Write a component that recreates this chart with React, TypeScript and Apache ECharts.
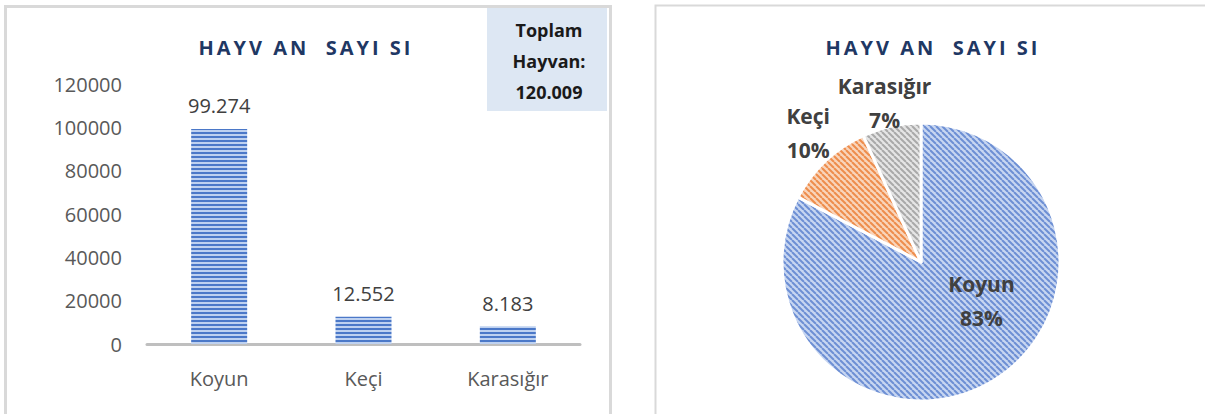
import React, { useEffect, useRef } from "react";
import * as echarts from "echarts";

// ---- data ----
const categories: string[] = ["Koyun", "Keçi", "Karasığır"];
const counts: number[] = [99274, 12552, 8183];
const yMin = 0;
const yMax = 120000;
const yInterval = 20000;
const chartTitle = "HAYV AN  SAYI SI";
const totalWords: string[] = ["Toplam", "Hayvan:"];

// ---- styles ----
const FONT = "'Open Sans', 'Noto Sans', sans-serif";
const TITLE_COLOR = "#1f3864";
const pieColors = [
  { bg: "#c7d6f1", line: "#6d8fd4" },
  { bg: "#f9d5bb", line: "#ee8d4c" },
  { bg: "#e5e5e5", line: "#a9a9a9" },
];
const pieLabelOffsets: [number, number][] = [
  [23, -23],
  [-63, -76],
  [-21, -88],
];

function fmt(v: number): string {
  return String(v).replace(/\B(?=(\d{3})+(?!\d))/g, ".");
}

function makeCanvas(w: number, h: number, draw: (ctx: CanvasRenderingContext2D) => void) {
  const c = document.createElement("canvas");
  c.width = w;
  c.height = h;
  const ctx = c.getContext("2d")!;
  draw(ctx);
  return c;
}

function stripePattern() {
  return makeCanvas(4, 4, (ctx) => {
    ctx.fillStyle = "#bed1f0";
    ctx.fillRect(0, 0, 4, 4);
    ctx.fillStyle = "#4b78c8";
    ctx.fillRect(0, 0, 4, 2);
  });
}

function hatchPattern(bg: string, line: string) {
  const s = 6;
  return makeCanvas(s, s, (ctx) => {
    ctx.fillStyle = bg;
    ctx.fillRect(0, 0, s, s);
    ctx.strokeStyle = line;
    ctx.lineWidth = 2;
    for (let k = -1; k <= 1; k++) {
      ctx.beginPath();
      ctx.moveTo(k * s, 0);
      ctx.lineTo(k * s + s, s);
      ctx.stroke();
    }
  });
}

export default function App() {
  const ref = useRef<HTMLDivElement>(null);

  useEffect(() => {
    if (!ref.current) return;
    const chart = echarts.init(ref.current, undefined, { renderer: "svg" });
    const total = counts.reduce((a, b) => a + b, 0);
    const titleStyle = {
      fontFamily: FONT,
      fontSize: 20,
      fontWeight: "bold",
      fill: TITLE_COLOR,
      align: "center",
      verticalAlign: "middle",
    };
    const boxText = {
      fontFamily: FONT,
      fontSize: 18,
      fontWeight: "bold",
      fill: "#1a1a1a",
      align: "center",
      verticalAlign: "middle",
    };

    chart.setOption({
      animation: false,
      backgroundColor: "#ffffff",
      graphic: [
        { type: "rect", shape: { x: 5.5, y: 6.5, width: 605, height: 430 }, style: { fill: "none", stroke: "#d9d9d9", lineWidth: 3 } },
        { type: "rect", shape: { x: 655.5, y: 5.5, width: 560, height: 430 }, style: { fill: "none", stroke: "#d9d9d9", lineWidth: 2 } },
        { type: "rect", shape: { x: 487, y: 8, width: 120, height: 103 }, style: { fill: "#dde7f3" } },
        { type: "text", x: 549, y: 30, style: { ...boxText, text: totalWords[0] } },
        { type: "text", x: 549, y: 61, style: { ...boxText, text: totalWords[1] } },
        { type: "text", x: 549, y: 92, style: { ...boxText, text: fmt(total) } },
        { type: "text", x: 306, y: 47, style: { ...titleStyle, text: chartTitle } },
        { type: "text", x: 933, y: 47, style: { ...titleStyle, text: chartTitle } },
      ],
      grid: { left: 147, right: 625, top: 84, bottom: 70 },
      xAxis: {
        type: "category",
        data: categories,
        axisLine: { lineStyle: { color: "#bfbfbf", width: 3 } },
        axisTick: { show: false },
        axisLabel: { color: "#595959", fontSize: 20, fontFamily: FONT, margin: 24 },
      },
      yAxis: {
        type: "value",
        min: yMin,
        max: yMax,
        interval: yInterval,
        axisLine: { show: false },
        axisTick: { show: false },
        splitLine: { show: false },
        axisLabel: {
          color: "#595959",
          fontSize: 20,
          fontFamily: FONT,
          margin: 25,
          formatter: (v: number) => String(v),
        },
      },
      series: [
        {
          type: "bar",
          data: counts,
          barWidth: 56,
          itemStyle: { color: { image: stripePattern(), repeat: "repeat" } },
          label: {
            show: true,
            position: "top",
            distance: 13,
            color: "#404040",
            fontSize: 20,
            fontFamily: FONT,
            formatter: (p: any) => fmt(p.value),
          },
        },
        {
          type: "pie",
          center: [921, 262],
          radius: 139,
          startAngle: 90,
          clockwise: true,
          itemStyle: { borderColor: "#ffffff", borderWidth: 3 },
          label: {
            show: true,
            position: "inside",
            color: "#404040",
            fontSize: 21,
            fontWeight: "bold",
            fontFamily: FONT,
            lineHeight: 34,
            formatter: (p: any) => `${p.name}\n${Math.round(p.percent)}%`,
          },
          labelLine: { show: false },
          labelLayout: (p: any) => {
            const o = pieLabelOffsets[p.dataIndex];
            return { dx: o[0], dy: o[1] };
          },
          emphasis: { disabled: true },
          data: categories.map((name, i) => ({
            name,
            value: counts[i],
            itemStyle: { color: { image: hatchPattern(pieColors[i].bg, pieColors[i].line), repeat: "repeat" } },
          })),
        },
      ],
    });

    return () => chart.dispose();
  }, []);

  return (
    <>
      <style>{`text[fill="${TITLE_COLOR}"]{letter-spacing:3px;}`}</style>
      <div
        ref={ref}
        style={{ position: "fixed", left: 0, top: 0, width: 1205, height: 414, background: "#fff" }}
      />
    </>
  );
}
